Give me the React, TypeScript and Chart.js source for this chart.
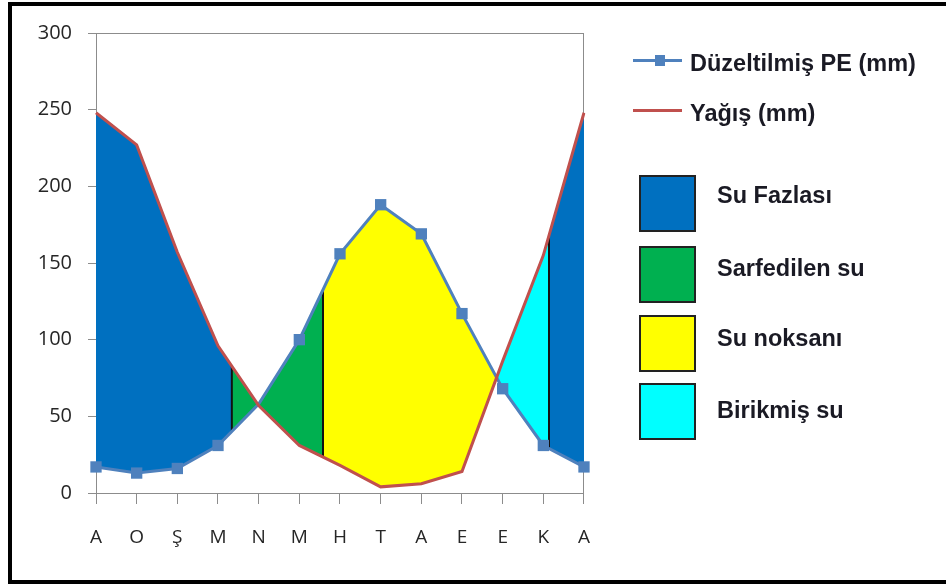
import React, { useEffect, useRef } from 'react';
import { Chart, registerables } from 'chart.js';

Chart.register(...registerables);

// ---- data ----
const months = ['A', 'O', 'Ş', 'M', 'N', 'M', 'H', 'T', 'A', 'E', 'E', 'K', 'A'];
const peValues = [17, 13, 16, 31, 58, 100, 156, 188, 169, 117, 68, 31, 17];
const rainValues = [248, 227, 157, 96, 57, 31, 18, 4, 6, 14, 86, 155, 248];
const yTickValues = [0, 50, 100, 150, 200, 250, 300];
const seriesNames = ['Düzeltilmiş PE (mm)', 'Yağış (mm)'];
const areaNames = ['Su Fazlası', 'Sarfedilen su', 'Su noksanı', 'Birikmiş su'];
// month-index positions where the shaded zone changes
const zoneBreaks = [3.34, 5.58, 11.14];
// PE points drawn without a marker
const hiddenMarkers = [4];

// ---- styles ----
const C = {
  pe: '#4F81BD',
  rain: '#C0504D',
  surplus: '#0070C0',
  use: '#00B050',
  deficit: '#FFFF00',
  recharge: '#00FFFF',
  axis: '#8C8C8C',
  tick: '#262626',
  text: '#1a1a24',
};
const areaColors = [C.surplus, C.use, C.deficit, C.recharge];

const zonePlugin = {
  id: 'zones',
  beforeDatasetsDraw(chart: any) {
    const { ctx, chartArea: a, scales } = chart;
    const xs = scales.x;
    const ys = scales.y;
    const pe = peValues.map((v, i) => [xs.getPixelForValue(i), ys.getPixelForValue(v)]);
    const rn = rainValues.map((v, i) => [xs.getPixelForValue(i), ys.getPixelForValue(v)]);
    const between = () => {
      ctx.beginPath();
      pe.forEach(([px, py], i) => (i ? ctx.lineTo(px, py) : ctx.moveTo(px, py)));
      for (let i = rn.length - 1; i >= 0; i--) ctx.lineTo(rn[i][0], rn[i][1]);
      ctx.closePath();
    };
    const clipX = (from: number, to: number) => {
      const x0 = xs.getPixelForValue(from);
      const x1 = xs.getPixelForValue(to);
      ctx.beginPath();
      ctx.rect(x0, a.top - 5, x1 - x0, a.bottom - a.top + 10);
      ctx.clip();
    };
    const clipSide = (up: boolean) => {
      const edge = up ? a.top - 5 : a.bottom + 5;
      ctx.beginPath();
      ctx.moveTo(rn[0][0], edge);
      rn.forEach(([px, py]) => ctx.lineTo(px, py));
      ctx.lineTo(rn[rn.length - 1][0], edge);
      ctx.closePath();
      ctx.clip();
    };
    const last = months.length - 1;
    const zones = [
      { from: 0, to: zoneBreaks[0], color: C.surplus, side: '' },
      { from: zoneBreaks[0], to: zoneBreaks[1], color: C.use, side: '' },
      { from: zoneBreaks[1], to: zoneBreaks[2], color: C.deficit, side: 'up' },
      { from: zoneBreaks[1], to: zoneBreaks[2], color: C.recharge, side: 'down' },
      { from: zoneBreaks[2], to: last, color: C.surplus, side: '' },
    ];
    zones.forEach((z) => {
      ctx.save();
      clipX(z.from, z.to);
      if (z.side) clipSide(z.side === 'up');
      between();
      ctx.fillStyle = z.color;
      ctx.fill();
      ctx.restore();
    });
    zoneBreaks.forEach((b) => {
      ctx.save();
      const px = xs.getPixelForValue(b);
      ctx.beginPath();
      ctx.rect(px - 1, a.top, 2, a.bottom - a.top);
      ctx.clip();
      between();
      ctx.fillStyle = '#111111';
      ctx.fill();
      ctx.restore();
    });
  },
};

export default function App() {
  const canvasRef = useRef<HTMLCanvasElement | null>(null);

  useEffect(() => {
    const canvas = canvasRef.current;
    if (!canvas) return;
    const chart = new Chart(canvas, {
      type: 'line',
      data: {
        labels: months,
        datasets: [
          {
            label: seriesNames[1],
            data: rainValues,
            borderColor: C.rain,
            backgroundColor: C.rain,
            borderWidth: 3,
            pointRadius: 0,
            pointHoverRadius: 0,
            fill: false,
            tension: 0,
          },
          {
            label: seriesNames[0],
            data: peValues,
            borderColor: C.pe,
            backgroundColor: C.pe,
            borderWidth: 3,
            pointStyle: 'rect',
            pointRadius: (ctx: any) => (hiddenMarkers.includes(ctx.dataIndex) ? 0 : 8),
            pointBorderWidth: 0,
            pointBackgroundColor: C.pe,
            fill: false,
            tension: 0,
          },
        ],
      },
      options: {
        responsive: false,
        animation: false,
        devicePixelRatio: 1,
        layout: { padding: { top: 33, right: 4, left: 0, bottom: 0 } },
        plugins: { legend: { display: false }, tooltip: { enabled: false } },
        scales: {
          x: {
            type: 'category',
            offset: false,
            grid: {
              color: (c: any) => (c.index === months.length - 1 ? C.axis : 'rgba(0,0,0,0)'),
              tickColor: C.axis,
              tickLength: 11,
              lineWidth: 1,
            },
            border: { color: C.axis, width: 1 },
            ticks: {
              color: C.tick,
              font: { family: "'Open Sans', sans-serif", size: 19 },
              padding: 22,
              autoSkip: false,
              maxRotation: 0,
            },
            afterFit: (s: any) => {
              s.height = 93;
            },
          },
          y: {
            type: 'linear',
            min: 0,
            max: 300,
            afterBuildTicks: (s: any) => {
              s.ticks = yTickValues.map((v) => ({ value: v }));
            },
            grid: {
              color: (c: any) => (c.tick && c.tick.value === 300 ? C.axis : 'rgba(0,0,0,0)'),
              tickColor: C.axis,
              tickLength: 8,
              lineWidth: 1,
            },
            border: { color: C.axis, width: 1 },
            ticks: {
              color: C.tick,
              font: { family: "'Open Sans', sans-serif", size: 20 },
              padding: 16,
            },
            afterFit: (s: any) => {
              s.width = 96;
            },
          },
        },
      },
      plugins: [zonePlugin],
    } as any);
    return () => chart.destroy();
  }, []);

  const textStyle: React.CSSProperties = {
    position: 'absolute',
    fontFamily: "'Liberation Sans', Arial, sans-serif",
    fontWeight: 'bold',
    fontSize: '23.5px',
    lineHeight: '23.5px',
    color: C.text,
    whiteSpace: 'nowrap',
  };
  const squareTops = [175, 246, 315, 383];
  const squareTextTops = [184, 257, 327, 399];

  return (
    <div
      style={{
        position: 'absolute',
        left: 0,
        top: 0,
        width: 946,
        height: 586,
        overflow: 'hidden',
        background: '#ffffff',
      }}
    >
      <canvas
        ref={canvasRef}
        width={612}
        height={586}
        style={{ position: 'absolute', left: 0, top: 0, width: 612, height: 586 }}
      />
      <div
        style={{
          position: 'absolute',
          left: 8,
          top: 2,
          width: 942,
          height: 582,
          border: '4px solid #000',
          boxSizing: 'border-box',
          pointerEvents: 'none',
        }}
      />
      {/* line legend */}
      <div style={{ position: 'absolute', left: 633, top: 59, width: 49, height: 3, background: C.pe }} />
      <div style={{ position: 'absolute', left: 655, top: 55, width: 10, height: 11, background: C.pe }} />
      <div style={{ ...textStyle, left: 690, top: 52 }}>{seriesNames[0]}</div>
      <div style={{ position: 'absolute', left: 633, top: 109, width: 49, height: 3, background: C.rain }} />
      <div style={{ ...textStyle, left: 690, top: 102 }}>{seriesNames[1]}</div>
      {/* area legend */}
      {areaNames.map((name, i) => (
        <React.Fragment key={name}>
          <div
            style={{
              position: 'absolute',
              left: 639,
              top: squareTops[i],
              width: 57,
              height: 57,
              boxSizing: 'border-box',
              border: '2px solid #222',
              background: areaColors[i],
            }}
          />
          <div style={{ ...textStyle, left: 717, top: squareTextTops[i] }}>{name}</div>
        </React.Fragment>
      ))}
    </div>
  );
}
